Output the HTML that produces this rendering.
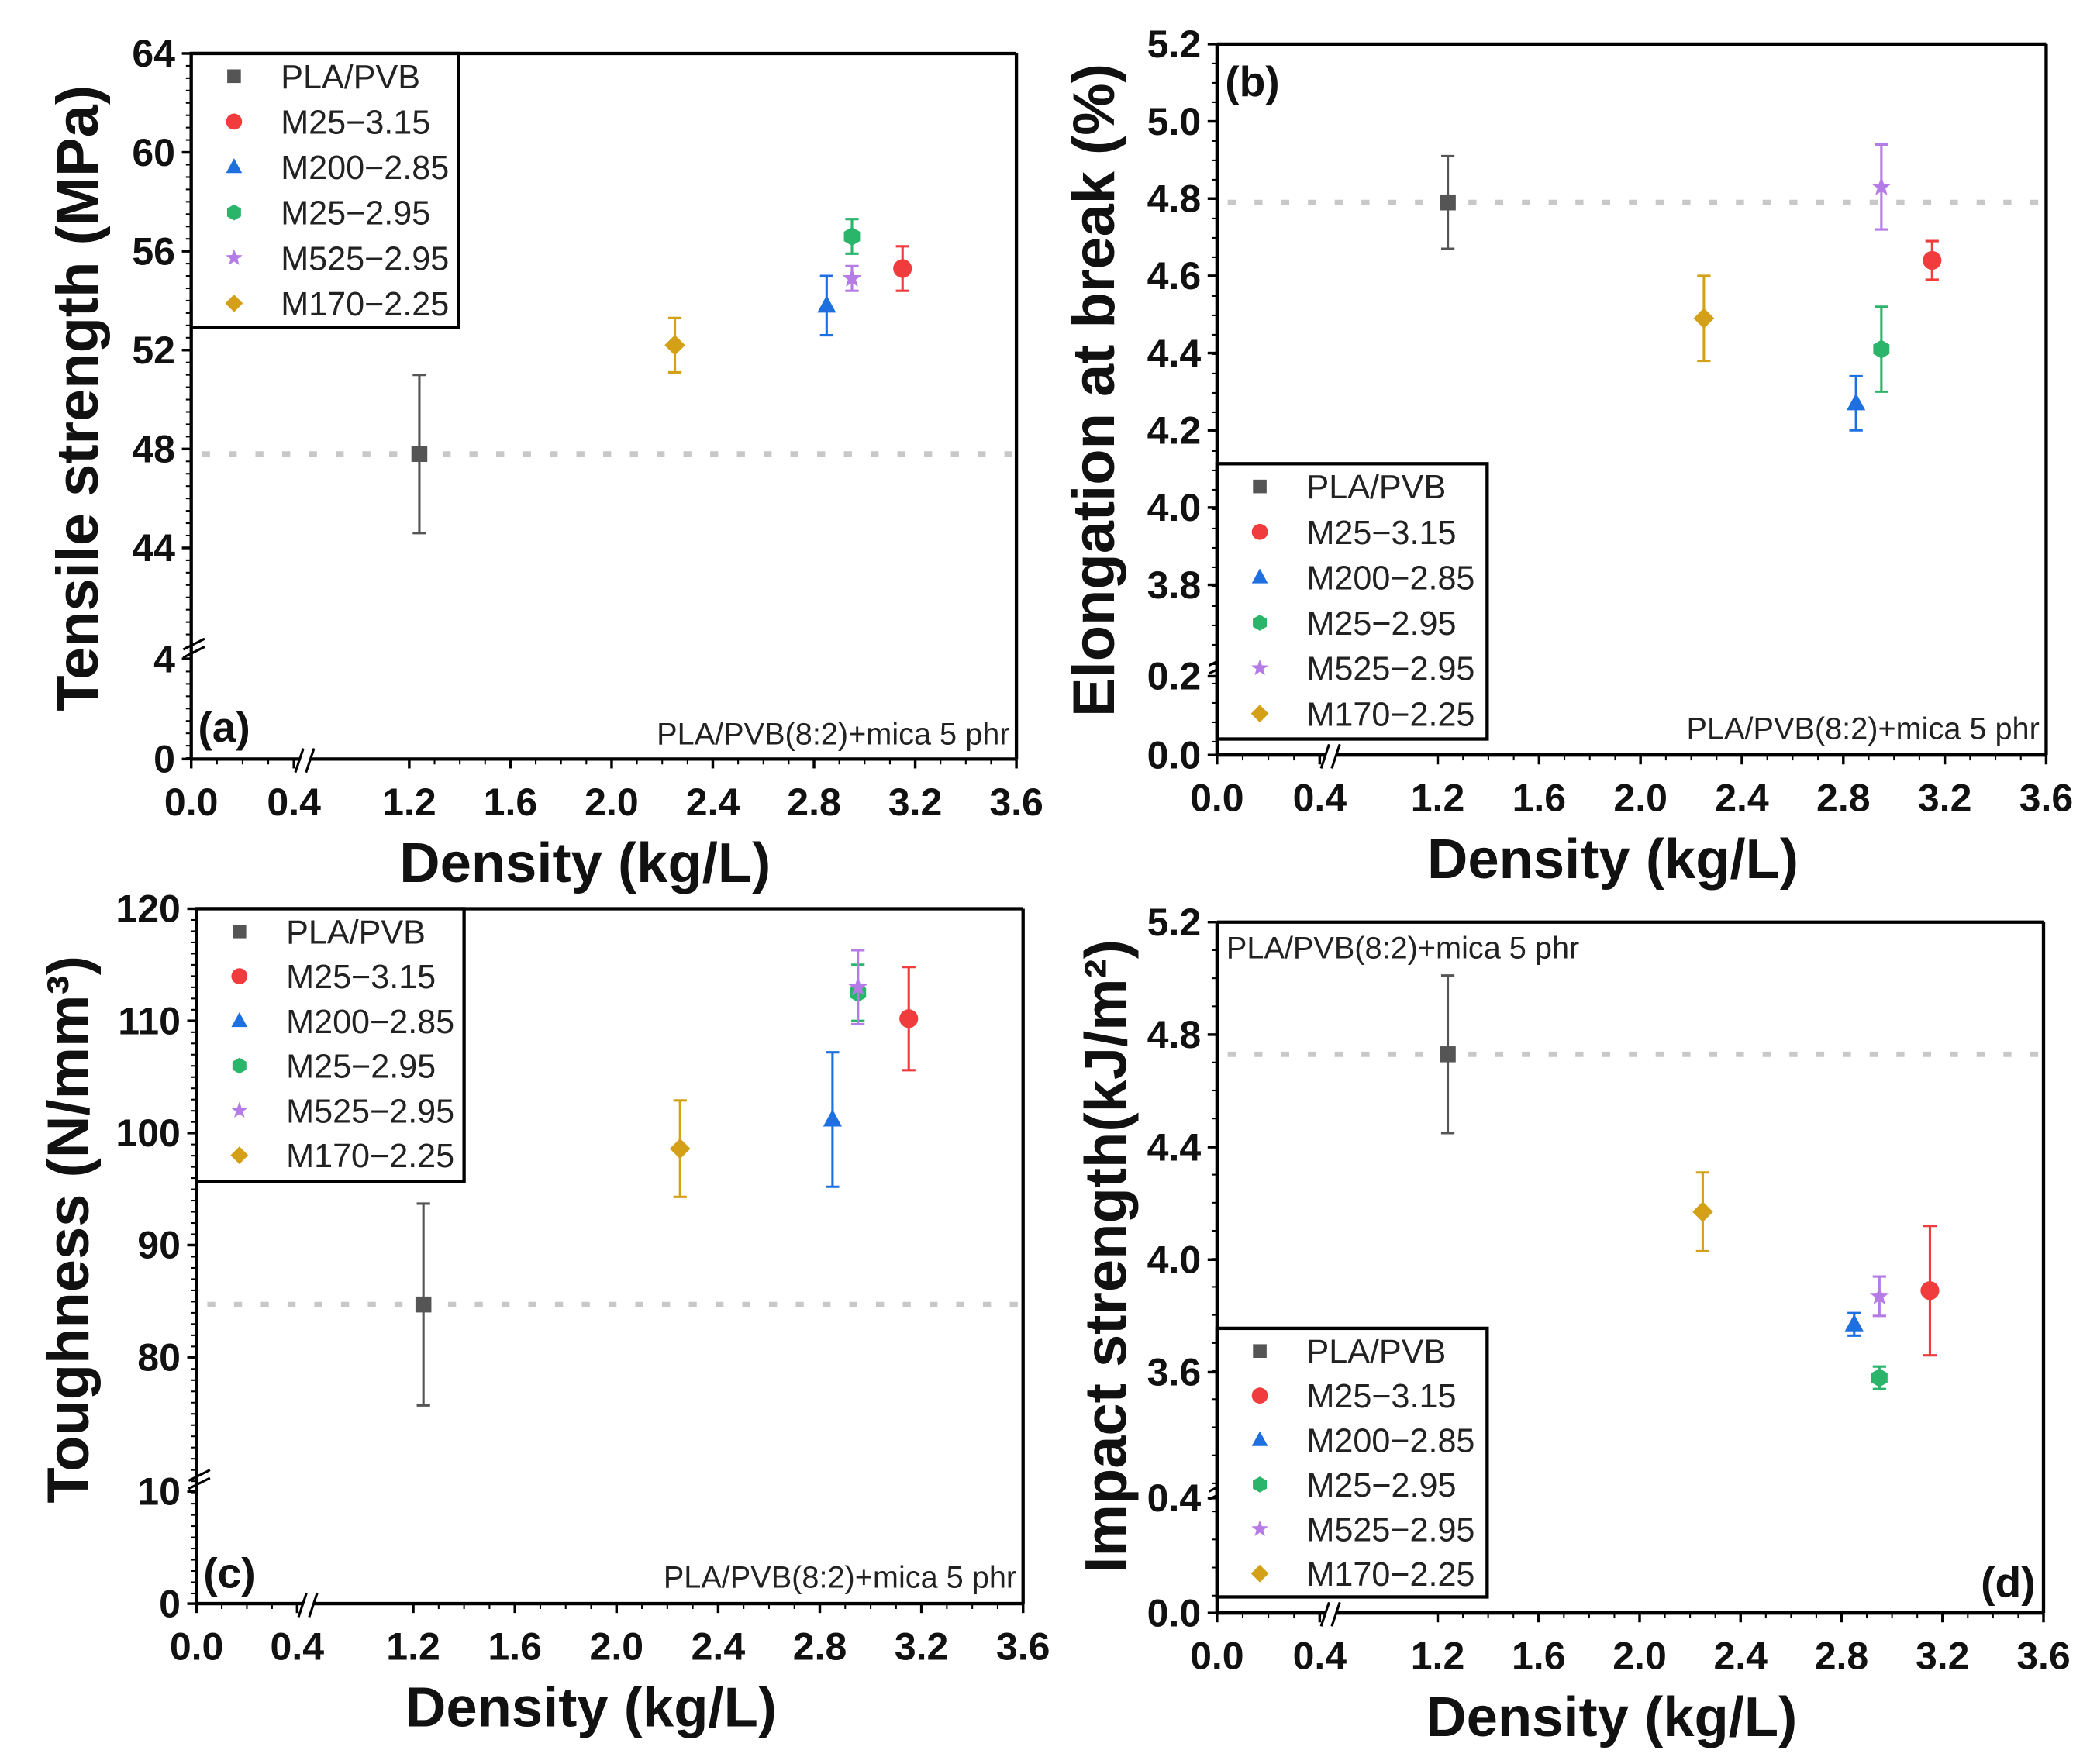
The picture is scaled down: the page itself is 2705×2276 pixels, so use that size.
<!DOCTYPE html>
<html><head><meta charset="utf-8"><style>
html,body{margin:0;padding:0;background:#fff}
svg{display:block}
text{font-family:"Liberation Sans",Arial,sans-serif}
</style></head><body>
<svg id="fig" width="2705" height="2276" viewBox="0 0 1568 1320" preserveAspectRatio="none" xmlns="http://www.w3.org/2000/svg"></svg>
<script>
const seriesNames = ["PLA/PVB","M25\u22123.15","M200\u22122.85","M25\u22122.95","M525\u22122.95","M170\u22122.25"];
const seriesX = [1.24, 3.15, 2.85, 2.95, 2.95, 2.25];
const tensileVals = [47.8, 55.3, 53.8, 56.6, 54.9, 52.2];
const tensileErr = [3.2, 0.9, 1.2, 0.7, 0.5, 1.1];
const elongVals = [4.79, 4.64, 4.27, 4.41, 4.83, 4.49];
const elongErr = [0.12, 0.05, 0.07, 0.11, 0.11, 0.11];
const toughVals = [84.7, 110.2, 101.2, 112.5, 113.0, 98.6];
const toughErr = [9.0, 4.6, 6.0, 2.5, 3.3, 4.3];
const impactVals = [4.73, 3.89, 3.77, 3.58, 3.87, 4.17];
const impactErr = [0.28, 0.23, 0.04, 0.04, 0.07, 0.14];
const xTickLabels = ["0.0","0.4","1.2","1.6","2.0","2.4","2.8","3.2","3.6"];
const xTickVals = [0,0.4,1.2,1.6,2.0,2.4,2.8,3.2,3.6];
const colors = ["#555555","#f03c3c","#1e6fe0","#2bb56a","#b57be6","#d4a017"];
const shapes = ["square","circle","triangle","hex","star","diamond"];

const NS="http://www.w3.org/2000/svg";
const svg=document.getElementById('fig');
function el(tag,attrs,parent){const e=document.createElementNS(NS,tag);for(const k in attrs)e.setAttribute(k,attrs[k]);(parent||svg).appendChild(e);return e;}
function txt(s,attrs,parent){const e=el('text',attrs,parent);e.textContent=s;return e;}

function marker(g,shape,cx,cy,c,r){
  let m;
  if(shape==="square") m=el('rect',{x:cx-r*0.85,y:cy-r*0.85,width:r*1.7,height:r*1.7,fill:c},g);
  else if(shape==="circle") m=el('circle',{cx:cx,cy:cy,r:r,fill:c},g);
  else if(shape==="hex"){let p=[];for(let i=0;i<6;i++){const a=Math.PI/6+i*Math.PI/3;p.push((cx+r*Math.cos(a)).toFixed(1)+","+(cy+r*Math.sin(a)).toFixed(1));}m=el('polygon',{points:p.join(" "),fill:c},g);}
  else if(shape==="triangle") m=el('polygon',{points:`${cx},${cy-r*1.1} ${cx-r},${cy+r*0.75} ${cx+r},${cy+r*0.75}`,fill:c},g);
  else if(shape==="diamond") m=el('polygon',{points:`${cx},${cy-r*1.1} ${cx+r*1.1},${cy} ${cx},${cy+r*1.1} ${cx-r*1.1},${cy}`,fill:c},g);
  else {let p=[];for(let i=0;i<10;i++){const a=-Math.PI/2+i*Math.PI/5;const rr=i%2?r*0.45:r*1.1;p.push((cx+rr*Math.cos(a)).toFixed(1)+","+(cy+rr*Math.sin(a)).toFixed(1));}m=el('polygon',{points:p.join(" "),fill:c},g);}
  return m;
}

function panel(cfg){
  const g=el('g',{});
  
  
  const L=cfg.L,R=cfg.R,T=cfg.T,B=cfg.B;
  const xBreakPx=L+0.4*cfg.xs0+8;
  const X=v=> v<=0.45 ? L+v*cfg.xs0 : cfg.x12+(v-1.2)*(R-cfg.x12)/2.4;
  const Y=v=> v<=cfg.lowMax ? B-v*cfg.ys0 : cfg.upPx(v);
  const ref=el('line',{x1:L+8,x2:R-2,y1:Y(cfg.vals[0]),y2:Y(cfg.vals[0]),stroke:"#c8c8c8","stroke-width":4,"stroke-dasharray":"6 14"},g);
  
  
  el('line',{x1:L,y1:T,x2:R,y2:T,stroke:"#000","stroke-width":2.5},g);
  el('line',{x1:R,y1:T,x2:R,y2:B,stroke:"#000","stroke-width":2.5},g);
  el('line',{x1:L,y1:B,x2:R,y2:B,stroke:"#000","stroke-width":2.5},g);
  el('line',{x1:L,y1:T,x2:L,y2:B,stroke:"#000","stroke-width":2.5},g);
  const yb=cfg.yBreakPx;
  el('line',{x1:L-6,y1:yb+1,x2:L+10,y2:yb-7,stroke:"#000","stroke-width":1.8},g);
  el('line',{x1:L-6,y1:yb+7,x2:L+10,y2:yb-1,stroke:"#000","stroke-width":1.8},g);
  el('rect',{x:xBreakPx-4,y:B-6,width:8,height:12,fill:"#fff"},g);
  el('line',{x1:xBreakPx-7,y1:B+10,x2:xBreakPx-1,y2:B-8,stroke:"#000","stroke-width":1.8},g);
  el('line',{x1:xBreakPx+1,y1:B+10,x2:xBreakPx+7,y2:B-8,stroke:"#000","stroke-width":1.8},g);
  cfg.yTicks.forEach((v,i)=>{
    const y=Y(v);
    el('line',{x1:L-7,y1:y,x2:L,y2:y,stroke:"#000","stroke-width":2},g);
    const t=txt(cfg.yLabels[i],{x:L-12,y:y+10,"font-size":29,"text-anchor":"end","font-weight":"bold",fill:"#111"},g);
    
    
  });
  for(let y=T;y<=B;y+=(cfg.yMinorStep)){el('line',{x1:L-4,y1:y,x2:L,y2:y,stroke:"#000","stroke-width":1.2},g);}
  xTickVals.forEach((v,i)=>{
    const x=X(v);
    el('line',{x1:x,y1:B,x2:x,y2:B+7,stroke:"#000","stroke-width":2},g);
    const t=txt(xTickLabels[i],{x:x,y:B+42,"font-size":29,"text-anchor":"middle","font-weight":"bold",fill:"#111"},g);
    
    
  });
  for(let v=1.3;v<3.6;v+=0.1){const x=X(v);el('line',{x1:x,y1:B,x2:x,y2:B+4,stroke:"#000","stroke-width":1.2},g);}
  for(let v=0.1;v<0.4;v+=0.1){const x=X(v);el('line',{x1:x,y1:B,x2:x,y2:B+4,stroke:"#000","stroke-width":1.2},g);}
  cfg.vals.forEach((v,i)=>{
    const x=X(seriesX[i]),y=Y(v),yt=Y(v+cfg.errs[i]),yb2=Y(v-cfg.errs[i]);
    const pg=el('g',{},g);
    
    
    el('line',{x1:x,y1:yt,x2:x,y2:yb2,stroke:colors[i],"stroke-width":1.8},pg);
    el('line',{x1:x-5,y1:yt,x2:x+5,y2:yt,stroke:colors[i],"stroke-width":1.8},pg);
    el('line',{x1:x-5,y1:yb2,x2:x+5,y2:yb2,stroke:colors[i],"stroke-width":1.8},pg);
    marker(pg,shapes[i],x,y,colors[i],7);
  });
  const lg=el('g',{},g);
  
  
  el('rect',{x:cfg.lg.x,y:cfg.lg.y,width:cfg.lg.w,height:cfg.lg.h,fill:"#fff",stroke:"#000","stroke-width":2.5},lg);
  seriesNames.forEach((n,i)=>{
    const y=cfg.lg.y+17+i*cfg.lg.step;
    const e=el('g',{},lg);
    
    
    marker(e,shapes[i],cfg.lg.x+32,y,colors[i],6);
    txt(n,{x:cfg.lg.x+67,y:y+9,"font-size":25,fill:"#222"},e);
  });
  const yt=txt(cfg.yTitle,{x:0,y:0,"font-size":44,"font-weight":"bold","text-anchor":"middle",transform:`translate(${cfg.ytx},${cfg.yty}) rotate(-90)`,fill:"#111"},g);
  
  
  const xt=txt("Density (kg/L)",{x:(L+R)/2-14,y:B+92,"font-size":42,"font-weight":"bold","text-anchor":"middle",fill:"#111"},g);
  
  
  const pl=txt(cfg.label,{x:cfg.plx,y:cfg.ply,"font-size":32,"font-weight":"bold","text-anchor":cfg.pla,fill:"#111"},g);
  
  
  const an=txt("PLA/PVB(8:2)+mica 5 phr",{x:cfg.anx,y:cfg.any,"font-size":23,"text-anchor":cfg.ana,fill:"#222"},g);
  
  
}

panel({name:"panel-a",L:143,R:760,T:40,B:568,xs0:192,x12:306,lowMax:4.5,ys0:18.75,
  upPx:v=>40+(64-v)*18.5,yBreakPx:485,yTicks:[0,4,44,48,52,56,60,64],yLabels:["0","4","44","48","52","56","60","64"],yMinorStep:9.25,
  vals:tensileVals,errs:tensileErr,lg:{x:143,y:40,w:200,h:205,step:34},
  yTitle:"Tensile strength (MPa)",ytx:73,yty:298,label:"(a)",plx:148,ply:555,pla:"start",anx:755,any:557,ana:"end"});
panel({name:"panel-b",L:910,R:1530,T:33,B:565,xs0:192,x12:1075,lowMax:0.25,ys0:295,
  upPx:v=>33+(5.2-v)*289,yBreakPx:497,yTicks:[0,0.2,3.8,4.0,4.2,4.4,4.6,4.8,5.0,5.2],yLabels:["0.0","0.2","3.8","4.0","4.2","4.4","4.6","4.8","5.0","5.2"],yMinorStep:14.5,
  vals:elongVals,errs:elongErr,lg:{x:910,y:347,w:202,h:206,step:34},
  yTitle:"Elongation at break (%)",ytx:833,yty:292,label:"(b)",plx:916,ply:72,pla:"start",anx:1525,any:553,ana:"end"});
panel({name:"panel-c",L:147,R:765,T:680,B:1200,xs0:188,x12:309,lowMax:12,ys0:8.4,
  upPx:v=>680+(120-v)*8.39,yBreakPx:1107,yTicks:[0,10,80,90,100,110,120],yLabels:["0","10","80","90","100","110","120"],yMinorStep:8.4,
  vals:toughVals,errs:toughErr,lg:{x:147,y:680,w:200,h:204,step:33.5},
  yTitle:"Toughness (N/mm\u00b3)",ytx:66,yty:920,label:"(c)",plx:152,ply:1188,pla:"start",anx:760,any:1188,ana:"end"});
panel({name:"panel-d",L:910,R:1528,T:690,B:1207,xs0:192,x12:1075,lowMax:0.5,ys0:215,
  upPx:v=>690+(5.2-v)*210.5,yBreakPx:1115,yTicks:[0,0.4,3.6,4.0,4.4,4.8,5.2],yLabels:["0.0","0.4","3.6","4.0","4.4","4.8","5.2"],yMinorStep:21,
  vals:impactVals,errs:impactErr,lg:{x:910,y:994,w:202,h:201,step:33.3},
  yTitle:"Impact strength(kJ/m\u00b2)",ytx:842,yty:940,label:"(d)",plx:1522,ply:1195,pla:"end",anx:917,any:717,ana:"start"});
</script>
</body></html>
